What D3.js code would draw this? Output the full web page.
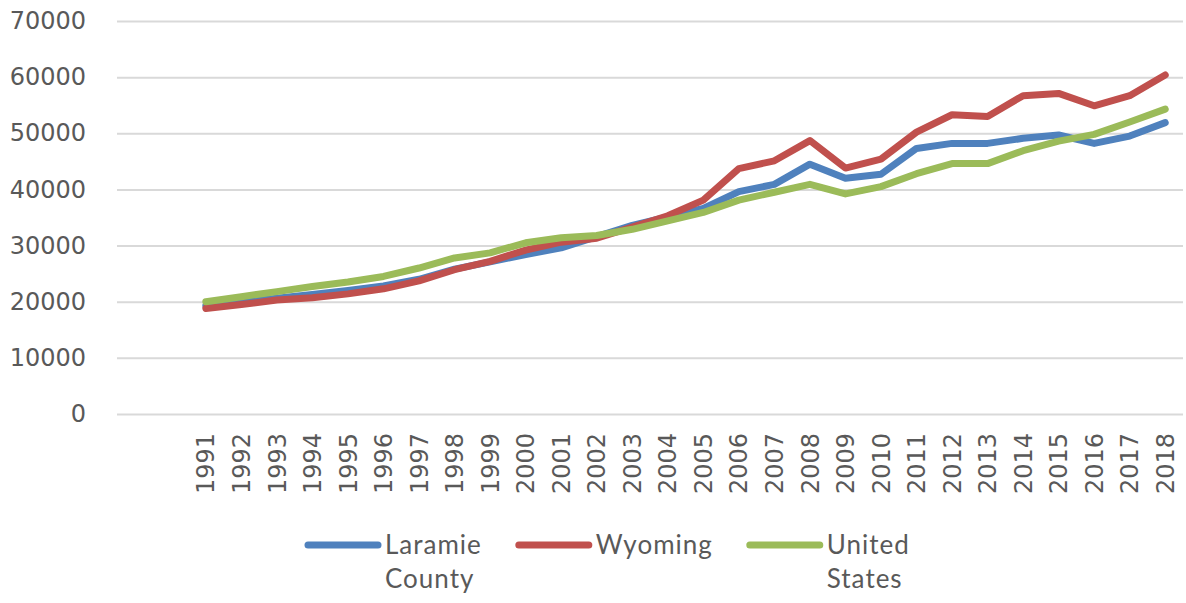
<!DOCTYPE html>
<html>
<head>
<meta charset="utf-8">
<script src="https://cdn.jsdelivr.net/npm/d3@7"></script>
<style>
  body { margin: 0; background: #fff; }
  .axis text { fill: #595959; font-family: "DejaVu Sans", sans-serif; font-size: 24px; }
  .legend text { fill: #595959; font-family: Lato, sans-serif; font-size: 26px; letter-spacing: 1px; }
</style>
</head>
<body>
<div id="canvas"></div>
<script>
const years = [1991, 1992, 1993, 1994, 1995, 1996, 1997, 1998, 1999, 2000,
  2001, 2002, 2003, 2004, 2005, 2006, 2007, 2008, 2009, 2010,
  2011, 2012, 2013, 2014, 2015, 2016, 2017, 2018];
const blankSlots = ["blank1", "blank2"]; // two empty categories before 1991

const laramie = [19300, 19900, 20600, 21300, 22000, 22800, 24000, 25800, 27100, 28400,
  29600, 31600, 33600, 35100, 36600, 39600, 40900, 44500, 42000, 42700,
  47300, 48200, 48200, 49100, 49700, 48200, 49500, 51900];
const wyoming = [18800, 19500, 20300, 20700, 21400, 22300, 23700, 25700, 27200, 29200,
  30600, 31300, 33300, 35300, 38100, 43700, 45100, 48700, 43800, 45400,
  50200, 53300, 53000, 56700, 57100, 54900, 56700, 60400];
const unitedStates = [20000, 20900, 21800, 22700, 23500, 24500, 26000, 27800, 28700, 30500,
  31400, 31800, 32900, 34400, 35900, 38100, 39500, 40900, 39200, 40500,
  42800, 44600, 44600, 46900, 48600, 49800, 52000, 54300];

const yTicks = [0, 10000, 20000, 30000, 40000, 50000, 60000, 70000];
const seriesNames = ["Laramie County", "Wyoming", "United States"];
const legendLabels = [["Laramie", "County"], ["Wyoming"], ["United", "States"]];
const colors = ["#4F81BD", "#C0504D", "#9BBB59"];

const series = [laramie, wyoming, unitedStates].map((values, i) => ({
  name: seriesNames[i],
  color: colors[i],
  points: values.map((v, j) => ({ year: String(years[j]), value: v }))
}));

const width = 1186;
const height = 603;
const margin = { top: 21, left: 117, right: 3, bottom: 189 };
const iwidth = width - margin.left - margin.right;
const iheight = height - margin.top - margin.bottom;

const svg = d3.select("#canvas").append("svg")
  .attr("width", width)
  .attr("height", height);

const g = svg.append("g").attr("transform", `translate(${margin.left},${margin.top})`);

const x = d3.scaleBand()
  .domain(blankSlots.concat(years.map(String)))
  .range([0, iwidth]);

const y = d3.scaleLinear()
  .domain([0, 70000])
  .range([iheight, 0]);

// gridlines + y labels
const yAxis = g.append("g")
  .attr("class", "axis y--axis")
  .call(d3.axisLeft(y).tickValues(yTicks).tickSize(-iwidth).tickPadding(31).tickFormat(d3.format("d")));
yAxis.select(".domain").remove();
yAxis.selectAll(".tick line").attr("stroke", "#d9d9d9").attr("stroke-width", 2);

// x labels, rotated
const xAxis = g.append("g")
  .attr("class", "axis x--axis")
  .attr("transform", `translate(0,${iheight})`)
  .call(d3.axisBottom(x).tickSize(0).tickFormat(d => blankSlots.includes(d) ? "" : d));
xAxis.select(".domain").remove();
xAxis.selectAll(".tick text")
  .attr("text-anchor", "end")
  .attr("transform", "translate(0,19) rotate(-90)")
  .attr("x", 0)
  .attr("y", 0)
  .attr("dy", "0.36em");

const line = d3.line()
  .x(d => x(d.year) + x.bandwidth() / 2)
  .y(d => y(d.value));

g.selectAll(".series").data(series).enter().append("path")
  .attr("class", "series")
  .attr("fill", "none")
  .attr("stroke", d => d.color)
  .attr("stroke-width", 7)
  .attr("stroke-linejoin", "round")
  .attr("stroke-linecap", "round")
  .attr("d", d => line(d.points));

// legend
const legend = svg.append("g").attr("class", "legend");
let lx = 308;
series.forEach((s, i) => {
  const item = legend.append("g").attr("transform", `translate(${lx},545)`);
  item.append("line")
    .attr("x1", 0).attr("x2", 70)
    .attr("stroke", s.color).attr("stroke-width", 7).attr("stroke-linecap", "round");
  const t = item.append("text").attr("x", 77).attr("y", 9);
  legendLabels[i].forEach((txt, k) => {
    t.append("tspan").attr("x", 77).attr("dy", k === 0 ? 0 : 34).text(txt);
  });
  lx += 77 + t.node().getBBox().width + 37;
});
</script>
</body>
</html>
